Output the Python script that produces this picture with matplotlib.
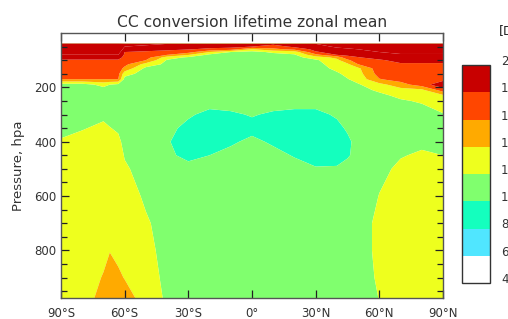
import numpy as np
import matplotlib
matplotlib.use("Agg")
import matplotlib.pyplot as plt
from matplotlib.colors import ListedColormap, BoundaryNorm
from matplotlib.cm import ScalarMappable

# ---------------- data ----------------
title = "CC conversion lifetime zonal mean"
units = "[Days]"
ylabel = "Pressure, hpa"

latitudes = [-90, -80, -70, -67, -63, -60, -50, -40, -30, -20, -10,
             0, 10, 20, 30, 40, 45, 50, 60, 70, 80, 90]
pressures = [37, 40, 50, 60, 70, 80, 90, 100, 115, 130, 150, 170, 190, 210,
             230, 250, 275, 300, 350, 400, 450, 500, 600, 700, 800, 900, 975]

# lifetime (days), one profile per latitude (top -> bottom, same order as pressures)
lifetime_profiles = [
    [7, 24, 23, 22, 21, 20, 18.8, 17.8, 17.4, 17.0, 16.6, 16.0, 11.2, 11.0, 11.0, 11.0, 11.1, 11.2, 11.55, 12.15, 12.6, 12.8, 13.0, 13.2, 13.3, 13.3, 13.3], # 90S
    [7, 24, 23, 22, 21, 20, 18.8, 17.8, 17.4, 17.0, 16.6, 16.0, 11.2, 11.0, 11.0, 11.0, 11.2, 11.4, 11.9, 12.5, 12.8, 13.0, 13.2, 13.4, 13.5, 13.6, 13.6],   # 80S
    [7, 24, 23, 22, 21, 20, 18.8, 17.8, 17.4, 17.0, 16.6, 16.0, 12.6, 11.2, 11.0, 11.0, 11.3, 11.7, 12.3, 12.6, 12.8, 13.0, 13.2, 13.5, 13.8, 14.05, 14.3],  # 70S
    [7, 24, 23, 22, 21, 20, 18.8, 17.8, 17.4, 17.0, 16.6, 16.0, 12.0, 11.1, 11.0, 11.0, 11.2, 11.5, 12.05, 12.4, 12.7, 12.9, 13.2, 13.5, 13.95, 14.6, 15.0], # 67S
    [7, 24, 23, 22, 21, 20, 18.8, 17.8, 17.4, 17.0, 16.6, 16.0, 11.5, 11.0, 11.0, 11.0, 11.1, 11.3, 11.8, 12.3, 12.6, 12.8, 13.1, 13.4, 13.7, 14.2, 14.6],   # 63S
    [7, 21, 20, 19, 18.0, 17.7, 17.4, 17.1, 16.6, 15.5, 12.8, 11.3, 11.0, 11.0, 11.0, 11.0, 11.0, 11.1, 11.3, 11.6, 11.9, 12.2, 12.6, 13.0, 13.4, 13.95, 14.5], # 60S
    [7, 20.5, 19.5, 18.5, 17.8, 17.4, 16.9, 16.0, 13.2, 11.5, 11.1, 11.0, 11.0, 11.0, 11.0, 11.0, 11.0, 11.0, 11.0, 11.1, 11.2, 11.4, 11.8, 12.15, 12.6, 13.1, 13.5], # 50S
    [7, 20, 19, 18.3, 17.5, 16.1, 13.0, 11.8, 11.5, 11.3, 11.2, 11.1, 11.0, 11.0, 11.0, 10.9, 10.8, 10.7, 10.4, 10.15, 10.3, 10.6, 11.0, 11.5, 11.3, 11.4, 11.6],  # 40S
    [7, 19.5, 18.8, 18.1, 16.8, 14.2, 11.6, 11.3, 11.2, 11.1, 11.0, 11.0, 11.0, 10.9, 10.8, 10.7, 10.5, 10.2, 9.6, 9.2, 9.6, 10.5, 11.0, 11.1, 11.1, 11.1, 11.1],    # 30S
    [7, 19.2, 18.6, 17.6, 14.0, 11.6, 11.3, 11.2, 11.1, 11.0, 11.0, 10.9, 10.9, 10.8, 10.6, 10.4, 10.1, 9.6, 9.2, 9.1, 10.0, 10.5, 10.9, 11.0, 11.0, 11.0, 11.0],    # 20S
    [7, 19.3, 18.7, 17.0, 12.0, 11.3, 11.2, 11.1, 11.0, 11.0, 10.9, 10.9, 10.8, 10.7, 10.5, 10.3, 10.2, 9.8, 9.3, 9.8, 10.4, 10.7, 10.9, 11.0, 11.0, 11.0, 11.0],    # 10S
    [7, 18.8, 18.0, 13.8, 11.3, 11.1, 11.0, 11.0, 11.0, 10.9, 10.9, 10.9, 10.8, 10.8, 10.7, 10.5, 10.3, 10.1, 9.6, 10.3, 10.6, 10.8, 10.9, 11.0, 11.0, 11.0, 11.0],   # EQ
    [7, 18.5, 17.0, 15.5, 12.4, 11.3, 11.1, 11.0, 11.0, 11.0, 10.9, 10.9, 10.8, 10.7, 10.6, 10.4, 10.2, 9.8, 9.5, 9.8, 10.4, 10.8, 10.9, 11.0, 11.0, 11.0, 10.8],    # 10N
    [7, 19.0, 18.5, 16.5, 13.0, 11.8, 11.3, 11.1, 11.0, 11.0, 10.9, 10.9, 10.8, 10.7, 10.6, 10.4, 10.1, 9.6, 9.2, 9.5, 9.9, 10.5, 10.9, 11.0, 11.0, 11.0, 10.6],     # 20N
    [7, 20, 19.3, 18.6, 17.8, 15.5, 13.0, 11.7, 11.3, 11.1, 11.0, 10.9, 10.8, 10.7, 10.6, 10.4, 10.1, 9.6, 9.0, 9.0, 9.5, 10.1, 10.8, 11.0, 11.0, 11.0, 10.6],     # 30N
    [7, 21, 20.3, 19.5, 18.8, 18.1, 14.5, 13.5, 13.0, 12.5, 11.7, 11.3, 11.1, 11.0, 10.9, 10.8, 10.6, 10.2, 9.6, 9.2, 9.3, 10.2, 10.9, 11.0, 11.1, 11.1, 11.1],     # 40N
    [7, 21.5, 20.6, 19.7, 19.0, 18.3, 17.5, 15.5, 13.6, 13.1, 12.5, 11.9, 11.5, 11.2, 11.0, 10.9, 10.7, 10.6, 10.2, 9.7, 9.85, 10.5, 10.9, 11.0, 11.05, 11.05, 11.05], # 45N
    [7, 22, 21, 20, 19.3, 18.6, 17.9, 17.5, 16.0, 13.6, 13.2, 12.7, 11.8, 11.4, 11.2, 11.1, 11.0, 10.9, 10.7, 10.5, 10.45, 10.7, 10.9, 11.05, 11.05, 11.0, 11.0],  # 50N
    [7, 22.5, 21.5, 20.8, 20.0, 19.3, 18.6, 17.8, 17.5, 17.2, 16.8, 15.9, 13.3, 12.3, 11.6, 11.3, 11.1, 11.0, 11.0, 11.1, 11.3, 11.6, 12.05, 12.5, 12.5, 12.3, 12.05], # 60N
    [7, 23, 22, 21.2, 20.5, 19.8, 19.2, 18.5, 17.8, 17.5, 17.1, 16.8, 15.2, 13.2, 12.4, 11.8, 11.4, 11.2, 11.2, 11.5, 11.9, 12.3, 12.8, 13.0, 13.0, 13.0, 12.9],    # 70N
    [7, 23, 22, 21.2, 20.5, 19.8, 19.2, 18.5, 17.8, 17.5, 17.3, 17.2, 17.0, 13.5, 12.8, 12.2, 11.7, 11.5, 11.4, 11.7, 12.2, 12.5, 12.9, 13.1, 13.1, 13.1, 13.0],    # 80N
    [7, 23, 22, 21.2, 20.5, 19.8, 19.2, 18.5, 17.8, 17.4, 17.2, 17.3, 19.5, 17.0, 13.6, 12.9, 12.4, 11.9, 11.5, 11.6, 12.0, 12.4, 12.9, 13.1, 13.1, 13.1, 13.0],    # 90N
]

levels = [4, 6, 8, 10, 12, 14, 16, 18, 20]
level_colors = ["#ffffff", "#50e6ff", "#14ffbe", "#80ff6e",
                "#eeff1e", "#ffaa00", "#ff4600", "#c80000"]
xtick_vals = [-90, -60, -30, 0, 30, 60, 90]
xtick_labels = ["90°S", "60°S", "30°S", "0°", "30°N", "60°N", "90°N"]
ytick_vals = [200, 400, 600, 800]

# ---------------- plot ----------------
W, H = 508, 319
fig = plt.figure(figsize=(W / 100, H / 100), dpi=100)
plt.rcParams["font.family"] = ["DejaVu Sans"]

ax = fig.add_axes([61 / W, 1 - 298 / H, (443 - 61) / W, (298 - 33) / H])
Z = np.array(lifetime_profiles).T
cmap = ListedColormap(level_colors)
cmap.set_over(level_colors[-1])
cmap.set_under(level_colors[0])
norm = BoundaryNorm(levels, cmap.N)
ax.contourf(latitudes, pressures, Z, levels=levels, cmap=cmap, norm=norm,
            extend="both", antialiased=True)

ax.set_xlim(-90, 90)
ax.set_ylim(975, 0)
ax.set_xticks(xtick_vals)
ax.set_xticklabels(xtick_labels)
ax.set_yticks(ytick_vals)
ax.set_yticks(np.arange(50, 975, 50), minor=True)
ax.tick_params(which="both", direction="in", top=True, right=True,
               colors="#222222", labelcolor="#333333", labelsize=8.5, width=0.9)
ax.tick_params(which="major", length=6)
ax.tick_params(which="minor", length=4.5)
ax.tick_params(axis="y", which="major", pad=3)
ax.tick_params(axis="x", which="major", pad=6.5)
for s in ax.spines.values():
    s.set_color("#555555")
    s.set_linewidth(1.0)
ax.set_ylabel(ylabel, fontsize=9.5, color="#333333", labelpad=7)
ax.set_title(title, fontsize=11.2, color="#333333", pad=4.5)

cax = fig.add_axes([462 / W, 1 - 283 / H, 28 / W, (283 - 65) / H])
sm = ScalarMappable(norm=norm, cmap=cmap)
cb = fig.colorbar(sm, cax=cax, ticks=levels)
cb.outline.set_edgecolor("#333333")
cb.outline.set_linewidth(1.0)
cax.tick_params(length=0, pad=8, labelsize=8.5, labelcolor="#333333")
for t in cax.get_yticklabels():
    t.set_verticalalignment("baseline")
fig.text(499 / W, 1 - 32 / H, units, fontsize=9, color="#222222",
         ha="left", va="center")

fig.savefig("out.png", dpi=100)
